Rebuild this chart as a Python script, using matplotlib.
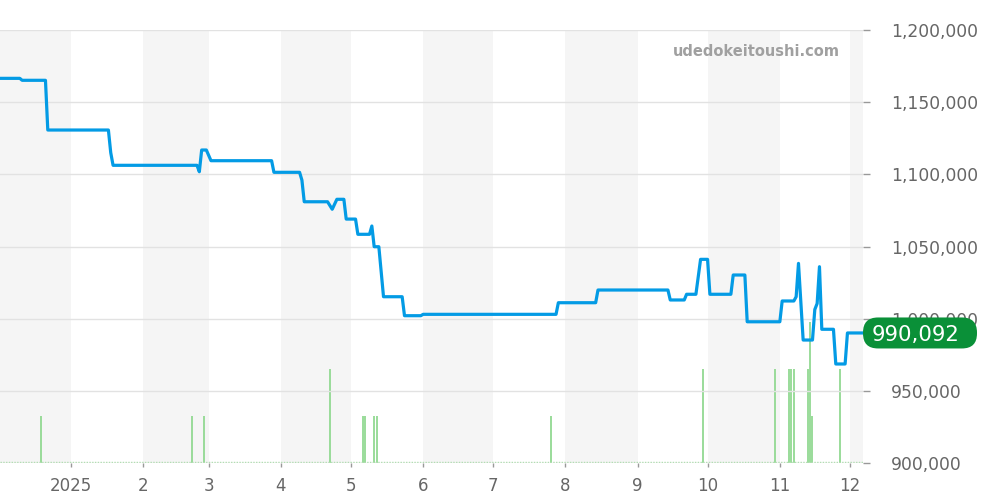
import matplotlib
matplotlib.use('Agg')
import matplotlib.pyplot as plt
import matplotlib.dates as mdates
from matplotlib.patches import FancyBboxPatch
import pandas as pd

plt.rcParams['font.family'] = ['DejaVu Sans']

# 価格推移（日付, 価格）
price_dates = [
    '2024-12-01', '2024-12-10', '2024-12-11', '2024-12-21', '2024-12-22',
    '2025-01-17', '2025-01-18', '2025-01-19', '2025-02-24', '2025-02-25',
    '2025-02-26', '2025-02-28', '2025-03-02', '2025-03-28', '2025-03-29',
    '2025-04-09', '2025-04-10', '2025-04-11', '2025-04-21', '2025-04-23',
    '2025-04-25', '2025-04-28', '2025-04-29', '2025-05-03', '2025-05-04',
    '2025-05-09', '2025-05-10', '2025-05-11', '2025-05-13', '2025-05-15',
    '2025-05-23', '2025-05-24', '2025-05-31', '2025-06-01', '2025-07-28',
    '2025-07-29', '2025-08-14', '2025-08-15', '2025-09-14', '2025-09-15',
    '2025-09-21', '2025-09-22', '2025-09-26', '2025-09-28', '2025-10-01',
    '2025-10-02', '2025-10-11', '2025-10-12', '2025-10-17', '2025-10-18',
    '2025-11-01', '2025-11-02', '2025-11-07', '2025-11-08', '2025-11-09',
    '2025-11-11', '2025-11-15', '2025-11-16', '2025-11-17', '2025-11-18',
    '2025-11-19', '2025-11-24', '2025-11-25', '2025-11-29', '2025-11-30',
    '2025-12-06',
]
prices = [
    1166500, 1166500, 1165150, 1165150, 1130700,
    1130700, 1115000, 1106250, 1106250, 1101800,
    1116850, 1116850, 1109450, 1109450, 1101400,
    1101400, 1096000, 1081000, 1081000, 1075800,
    1082700, 1082700, 1069000, 1069000, 1058450,
    1058450, 1064200, 1049850, 1049850, 1015200,
    1015200, 1002050, 1002050, 1003000, 1003000,
    1011050, 1011050, 1019850, 1019850, 1012950,
    1012950, 1016900, 1016900, 1041100, 1041100,
    1016900, 1016900, 1030250, 1030250, 997850,
    997850, 1012250, 1012250, 1015200, 1038300,
    985200, 985200, 1006350, 1010500, 1036000,
    992650, 992650, 968600, 968600, 990092,
    990092,
]

# 取引件数
vol_dates = [
    '2024-12-19', '2025-02-22', '2025-02-27', '2025-04-22', '2025-05-06',
    '2025-05-07', '2025-05-11', '2025-05-12', '2025-07-26', '2025-09-29',
    '2025-10-30', '2025-11-05', '2025-11-06', '2025-11-07', '2025-11-13',
    '2025-11-14', '2025-11-15', '2025-11-27',
]
vol_counts = [1, 1, 1, 2, 1, 1, 1, 1, 1, 2, 2, 2, 2, 2, 2, 3, 1, 2]

month_labels = ['2025', '2', '3', '4', '5', '6', '7', '8', '9', '10', '11', '12']
y_ticks = [900000, 950000, 1000000, 1050000, 1100000, 1150000, 1200000]
last_price = 990092

fig = plt.figure(figsize=(10, 5), dpi=100)
ax = fig.add_axes([0, 0.074, 0.8633, 0.866])
ax2 = ax.twinx()

base = pd.Timestamp('2024-12-01')
x0 = mdates.date2num(base) + 0.5
x1 = mdates.date2num(base) + 370.8

# 月ごとの背景（下の軸に描く）
months = pd.date_range('2024-12-01', '2026-01-01', freq='MS')
for i in range(0, len(months) - 1, 2):
    ax2.axvspan(months[i], months[i + 1], color='#f5f5f5', lw=0, zorder=0)

# 取引件数
vd = pd.to_datetime(vol_dates)
ax2.vlines(vd, 0, vol_counts, color='#92d992', lw=1.3, zorder=2)
ax2.plot([x0, x1], [0.03, 0.03], color='#a8dca8', lw=1, ls=(0, (1, 1)), zorder=2)
ax2.set_ylim(0, 9.2)
ax2.set_yticks([])
ax2.set_xlim(x0, x1)

# 価格
ax2.set_zorder(0)
ax.set_zorder(1)
ax.patch.set_visible(False)
for v in y_ticks:
    ax.axhline(v, color='#e2e2e2', lw=1, zorder=1)
pdt = pd.to_datetime(price_dates)
ax.plot(pdt, prices, color='#039be5', lw=2.3, zorder=3, solid_joinstyle='round')

ax.set_xlim(x0, x1)
ax.set_ylim(900000, 1200000)

ax.yaxis.tick_right()
ax.set_yticks(y_ticks)
ax.set_yticklabels([f'{v:,}' for v in y_ticks])
ax.tick_params(axis='y', colors='#999999', labelcolor='#666666', length=5, width=1,
               pad=15, labelsize=12.3)
for lbl in ax.get_yticklabels():
    lbl.set_horizontalalignment('left')

ticks = pd.date_range('2025-01-01', '2025-12-01', freq='MS')
ax.set_xticks(ticks)
ax.set_xticklabels(month_labels)
ax.tick_params(axis='x', colors='#999999', labelcolor='#666666', length=3, width=1,
               pad=7, labelsize=12)

for s in ax.spines.values():
    s.set_visible(False)
for s in ax2.spines.values():
    s.set_visible(False)

# 現在価格ラベル
yl = ax.transData.transform((x1, last_price))[1]
box = FancyBboxPatch((863, yl - 15.5), 114, 31, boxstyle='round,pad=0,rounding_size=15',
                     fc='#0a9038', ec='none', transform=None, zorder=10)
fig.patches.append(box)
fig.text(872, yl, f'{last_price:,}', transform=None, ha='left', va='center_baseline',
         color='white', fontsize=15.3, zorder=11)

fig.text(0.84, 0.896, 'udedokeitoushi.com', ha='right', va='center',
         color='#a0a0a0', fontsize=10.5, fontweight='bold')

plt.savefig('out.png', dpi=100)
